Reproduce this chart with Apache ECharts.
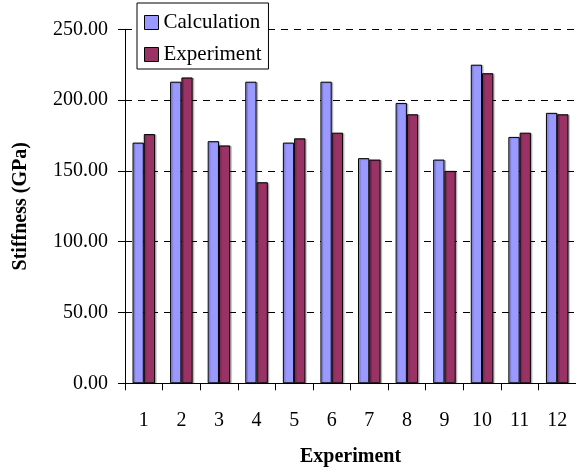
<!DOCTYPE html>
<html>
<head>
<meta charset="utf-8">
<script src="https://cdn.jsdelivr.net/npm/echarts@6/dist/echarts.min.js"></script>
<style>
  html, body { margin: 0; padding: 0; background: #fff; }
  #chart { width: 576px; height: 474px; }
</style>
</head>
<body>
<div id="chart"></div>
<script>
// Stiffness per experiment: calculated vs measured (GPa)
const categories = ['1', '2', '3', '4', '5', '6', '7', '8', '9', '10', '11', '12'];
const calculation = [170, 213, 171, 213, 170, 213, 159, 198, 158, 225, 174, 191];
const experiment = [176, 216, 168, 142, 173, 177, 158, 190, 150, 219, 177, 190];
const yTicks = [0, 50, 100, 150, 200, 250];

const serif = 'Liberation Serif';

const chart = echarts.init(document.getElementById('chart'), null, { renderer: 'canvas' });

const barStyle = {
  borderColor: '#000',
  borderWidth: 1,
  shadowColor: 'rgba(0,0,0,0.25)',
  shadowOffsetX: 1.5,
  shadowOffsetY: 0.5,
  shadowBlur: 1
};

const legendMarker = { borderColor: '#000', borderWidth: 1, shadowBlur: 0, shadowOffsetX: 0, shadowOffsetY: 0 };

chart.setOption({
  animation: false,
  backgroundColor: '#fff',
  textStyle: { fontFamily: serif },
  grid: { left: 125, top: 29.3, right: -3, bottom: 90.7, containLabel: false },
  legend: {
    orient: 'vertical',
    left: 137,
    top: 3,
    padding: [9, 7, 4, 7],
    itemGap: 11,
    itemWidth: 14,
    itemHeight: 14,
    itemTextGap: 4,
    backgroundColor: '#fff',
    borderColor: '#000',
    borderWidth: 1,
    formatter: '{t|{name}}',
    textStyle: {
      fontFamily: serif, fontSize: 21, color: '#000',
      rich: { t: { fontFamily: serif, fontSize: 21, color: '#000' } }
    },
    data: [
      { name: 'Calculation', icon: 'rect', itemStyle: legendMarker },
      { name: 'Experiment', icon: 'rect', itemStyle: legendMarker }
    ]
  },
  xAxis: {
    type: 'category',
    data: categories,
    name: 'Experiment',
    nameLocation: 'middle',
    nameGap: 64,
    nameTextStyle: { fontFamily: serif, fontSize: 20, fontWeight: 'bold', color: '#000' },
    axisLine: { lineStyle: { color: '#000', width: 1 } },
    axisTick: { show: true, length: 7, lineStyle: { color: '#000' } },
    axisLabel: { fontFamily: serif, fontSize: 20, color: '#000', margin: 27 },
    splitLine: { show: false }
  },
  yAxis: {
    type: 'value',
    min: yTicks[0],
    max: yTicks[yTicks.length - 1],
    interval: 50,
    name: 'Stiffness (GPa)',
    nameLocation: 'middle',
    nameGap: 94,
    nameTextStyle: { fontFamily: serif, fontSize: 20, fontWeight: 'bold', color: '#000' },
    axisLine: { show: true, lineStyle: { color: '#000', width: 1 } },
    axisTick: { show: true, length: 7, lineStyle: { color: '#000' } },
    axisLabel: {
      fontFamily: serif, fontSize: 20, color: '#000', margin: 17,
      formatter: v => v.toFixed(2)
    },
    splitLine: { show: true, lineStyle: { color: '#000', width: 1, type: [7, 6] } }
  },
  series: [
    {
      name: 'Calculation',
      type: 'bar',
      data: calculation,
      barGap: '0%',
      barCategoryGap: '40%',
      itemStyle: Object.assign({ color: '#9999FF' }, barStyle)
    },
    {
      name: 'Experiment',
      type: 'bar',
      data: experiment,
      barGap: '0%',
      barCategoryGap: '40%',
      itemStyle: Object.assign({ color: '#993366' }, barStyle)
    }
  ]
});
</script>
</body>
</html>
